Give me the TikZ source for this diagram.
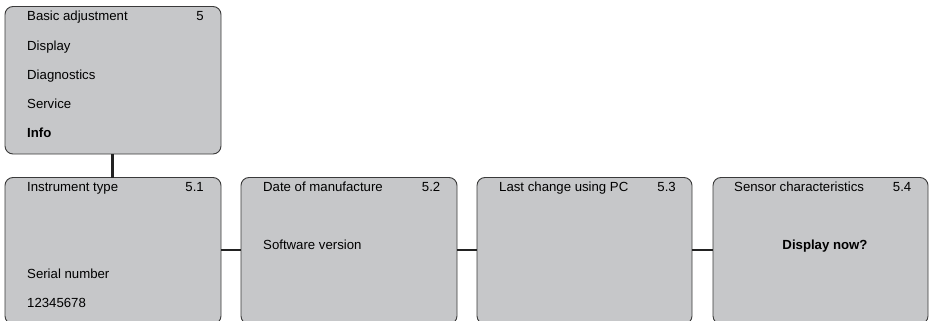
\documentclass[tikz,border=0pt]{standalone}
\usepackage{fontspec}
\setmainfont{Liberation Sans}
\definecolor{boxfill}{HTML}{C6C7C9}
\definecolor{boxline}{HTML}{3A3A3A}
\definecolor{conn}{HTML}{222222}
\tikzset{
  menubox/.style={draw=boxline, fill=boxfill, line width=0.9pt, rounded corners=8pt},
  lbl/.style={anchor=base west, inner sep=0pt, font=\fontsize{13.2}{15}\selectfont, text=black},
  num/.style={anchor=base east, inner sep=0pt, font=\fontsize{13.2}{15}\selectfont, text=black},
  link/.style={draw=conn, line width=2.4pt}
}
\begin{document}
\begin{tikzpicture}[x=1pt,y=-1pt]
\useasboundingbox (0,0) rectangle (931,321);
\clip (0,0) rectangle (931,321);
% boxes
\draw[menubox] (5,6.5) rectangle (221,154);
\coordinate (topbot) at (112.5,154);
\draw[menubox] (5,177.5) rectangle (221,324);
\draw[menubox] (241,177.5) rectangle (457,324);
\draw[menubox] (477,177.5) rectangle (692,324);
\draw[menubox] (713,177.5) rectangle (928,324);
\coordinate (b1top) at (112.5,177.5);
\coordinate (b1r) at (221,250);
\coordinate (b2l) at (241,250);
\coordinate (b2r) at (457,250);
\coordinate (b3l) at (477,250);
\coordinate (b3r) at (692,250);
\coordinate (b4l) at (713,250);
% connectors
\draw[link] (topbot) -- (b1top);
\draw[link] (b1r) -- (b2l);
\draw[link] (b2r) -- (b3l);
\draw[link] (b3r) -- (b4l);
% top box text
\node[lbl] (t1) at (27,21) {Basic adjustment};
\node[num] (t1n) at (204,21) {5};
\node[lbl] (t2) at (27,50.5) {Display};
\node[lbl] (t3) at (27,79.5) {Diagnostics};
\node[lbl] (t4) at (27,108) {Service};
\node[lbl] (t5) at (27,137) {\bfseries Info};
% box 1
\node[lbl] (a1) at (27,191) {Instrument type};
\node[num] (a1n) at (204,191) {5.1};
\node[lbl] (a2) at (27,278) {Serial number};
\node[lbl] (a3) at (27,307.5) {12345678};
% box 2
\node[lbl] (b1) at (263,191) {Date of manufacture};
\node[num] (b1n) at (440.5,191) {5.2};
\node[lbl] (b2) at (263,249) {Software version};
% box 3
\node[lbl] (c1) at (499,191) {Last change using PC};
\node[num] (c1n) at (676,191) {5.3};
% box 4
\node[lbl] (d1) at (734,191) {Sensor characteristics};
\node[num] (d1n) at (911.5,191) {5.4};
\node[anchor=base, inner sep=0pt, font=\fontsize{13.2}{15}\selectfont\bfseries] (d2) at (825,249.5) {Display now?};
\end{tikzpicture}
\end{document}
